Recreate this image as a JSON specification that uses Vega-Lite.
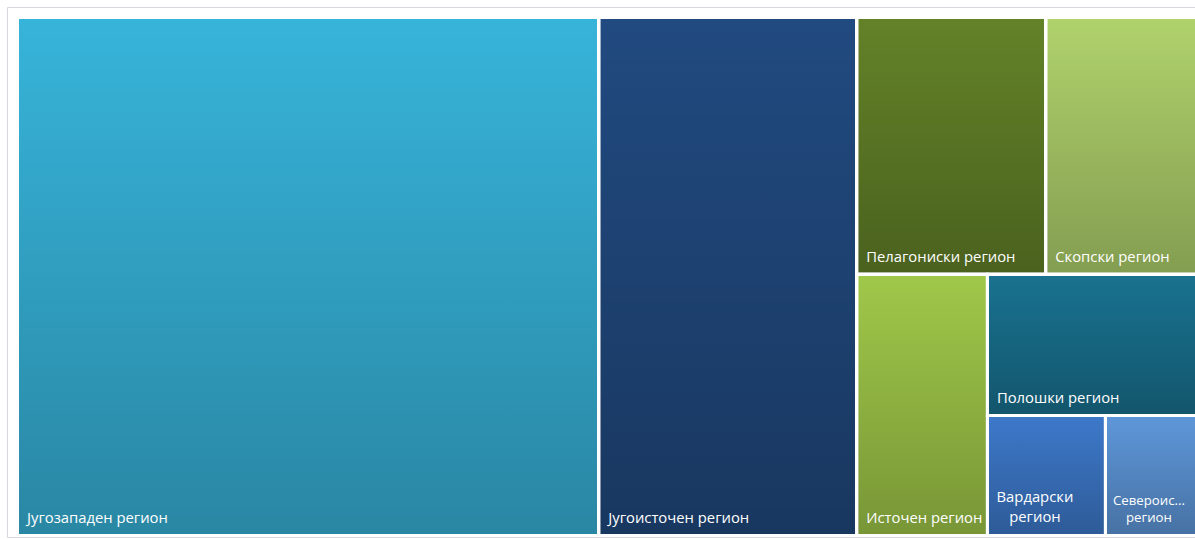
{
  "$schema": "https://vega.github.io/schema/vega-lite/v6.json",
  "width": 1188,
  "height": 530,
  "autosize": {"type": "none"},
  "padding": {"left": 7, "top": 7, "right": 0, "bottom": 2},
  "background": "white",
  "config": {"view": {"stroke": "#d9d7de", "strokeWidth": 1}},
  "data": {
    "values": [
      {"region": "Југозападен регион", "label": "Југозападен регион", "value": 493.0, "g1": "1", "g2": "1", "g3": "1", "g4": "1", "g5": "1"},
      {"region": "Југоисточен регион", "label": "Југоисточен регион", "value": 218.8, "g1": "2", "g2": "1", "g3": "1", "g4": "1", "g5": "1"},
      {"region": "Пелагониски регион", "label": "Пелагониски регион", "value": 79.5, "g1": "3", "g2": "1", "g3": "1", "g4": "1", "g5": "1"},
      {"region": "Скопски регион", "label": "Скопски регион", "value": 63.4, "g1": "3", "g2": "1", "g3": "2", "g4": "1", "g5": "1"},
      {"region": "Источен регион", "label": "Источен регион", "value": 55.9, "g1": "3", "g2": "2", "g3": "1", "g4": "1", "g5": "1"},
      {"region": "Полошки регион", "label": "Полошки регион", "value": 48.3, "g1": "3", "g2": "2", "g3": "2", "g4": "1", "g5": "1"},
      {"region": "Вардарски регион", "label": ["Вардарски", "регион"], "value": 23.2, "g1": "3", "g2": "2", "g3": "2", "g4": "2", "g5": "1"},
      {"region": "Североисточен регион", "label": ["Североис...", "регион"], "value": 17.9, "g1": "3", "g2": "2", "g3": "2", "g4": "2", "g5": "2"}
    ]
  },
  "transform": [
    {"joinaggregate": [{"op": "sum", "field": "value", "as": "T"}]},
    {"joinaggregate": [{"op": "sum", "field": "value", "as": "s1"}], "groupby": ["g1"]},
    {"window": [{"op": "sum", "field": "value", "as": "c1"}], "sort": [{"field": "g1"}], "frame": [null, 0], "ignorePeers": false},
    {"joinaggregate": [{"op": "sum", "field": "value", "as": "s2"}], "groupby": ["g1", "g2"]},
    {"window": [{"op": "sum", "field": "value", "as": "c2"}], "groupby": ["g1"], "sort": [{"field": "g2"}], "frame": [null, 0], "ignorePeers": false},
    {"joinaggregate": [{"op": "sum", "field": "value", "as": "s3"}], "groupby": ["g1", "g2", "g3"]},
    {"window": [{"op": "sum", "field": "value", "as": "c3"}], "groupby": ["g1", "g2"], "sort": [{"field": "g3"}], "frame": [null, 0], "ignorePeers": false},
    {"joinaggregate": [{"op": "sum", "field": "value", "as": "s4"}], "groupby": ["g1", "g2", "g3", "g4"]},
    {"window": [{"op": "sum", "field": "value", "as": "c4"}], "groupby": ["g1", "g2", "g3"], "sort": [{"field": "g4"}], "frame": [null, 0], "ignorePeers": false},
    {"joinaggregate": [{"op": "sum", "field": "value", "as": "s5"}], "groupby": ["g1", "g2", "g3", "g4", "g5"]},
    {"window": [{"op": "sum", "field": "value", "as": "c5"}], "groupby": ["g1", "g2", "g3", "g4"], "sort": [{"field": "g5"}], "frame": [null, 0], "ignorePeers": false},
    {"calculate": "(datum.c1 - datum.s1) / datum.T", "as": "xa0"},
    {"calculate": "datum.c1 / datum.T", "as": "xa1"},
    {"calculate": "(datum.c2 - datum.s2) / datum.s1", "as": "yb0"},
    {"calculate": "datum.c2 / datum.s1", "as": "yb1"},
    {"calculate": "datum.xa0 + (datum.c3 - datum.s3) / datum.s2 * (datum.xa1 - datum.xa0)", "as": "xc0"},
    {"calculate": "datum.xa0 + datum.c3 / datum.s2 * (datum.xa1 - datum.xa0)", "as": "xc1"},
    {"calculate": "datum.yb0 + (datum.c4 - datum.s4) / datum.s3 * (datum.yb1 - datum.yb0)", "as": "yd0"},
    {"calculate": "datum.yb0 + datum.c4 / datum.s3 * (datum.yb1 - datum.yb0)", "as": "yd1"},
    {"calculate": "datum.xc0 + (datum.c5 - datum.s5) / datum.s4 * (datum.xc1 - datum.xc0)", "as": "xe0"},
    {"calculate": "datum.xc0 + datum.c5 / datum.s4 * (datum.xc1 - datum.xc0)", "as": "xe1"}
  ],
  "layer": [
    {
      "mark": {"type": "rect", "stroke": "white", "strokeWidth": 3},
      "encoding": {
        "x": {"field": "xe0", "type": "quantitative", "axis": null, "scale": {"domain": [-0.008906, 0.998728], "nice": false, "zero": false}},
        "x2": {"field": "xe1"},
        "y": {"field": "yd0", "type": "quantitative", "axis": null, "scale": {"domain": [-0.02027, 1.002896], "nice": false, "zero": false, "reverse": true}},
        "y2": {"field": "yd1"},
        "fill": {
          "field": "region", "type": "nominal", "legend": null,
          "scale": {
            "domain": ["Југозападен регион", "Југоисточен регион", "Пелагониски регион", "Скопски регион", "Источен регион", "Полошки регион", "Вардарски регион", "Североисточен регион"],
            "range": ["#37b4da", "#214a80", "#638228", "#b0d26c", "#a0c849", "#197290", "#3d79ca", "#5e97da"]
          }
        }
      }
    },
    {
      "mark": {
        "type": "rect", "stroke": "white", "strokeWidth": 3,
        "color": {"gradient": "linear", "x1": 0, "y1": 0, "x2": 0, "y2": 1,
          "stops": [{"offset": 0, "color": "rgba(0,0,0,0)"}, {"offset": 1, "color": "rgba(0,0,0,0.25)"}]}
      },
      "encoding": {
        "x": {"field": "xe0", "type": "quantitative"},
        "x2": {"field": "xe1"},
        "y": {"field": "yd0", "type": "quantitative"},
        "y2": {"field": "yd1"}
      }
    },
    {
      "transform": [{"filter": {"not": {"field": "region", "oneOf": ["Вардарски регион", "Североисточен регион"]}}}],
      "mark": {"type": "text", "align": "left", "baseline": "alphabetic", "dx": 9.5, "dy": -12, "font": "Open Sans", "fontSize": 14.8, "color": "white"},
      "encoding": {
        "x": {"field": "xe0", "type": "quantitative"},
        "y": {"field": "yd1", "type": "quantitative"},
        "text": {"field": "label", "type": "nominal"}
      }
    },
    {
      "transform": [{"filter": {"field": "region", "equal": "Вардарски регион"}}],
      "mark": {"type": "text", "align": "center", "baseline": "alphabetic", "dx": 47.5, "dy": -33, "lineHeight": 20, "font": "Open Sans", "fontSize": 14.8, "color": "white"},
      "encoding": {
        "x": {"field": "xe0", "type": "quantitative"},
        "y": {"field": "yd1", "type": "quantitative"},
        "text": {"field": "label", "type": "nominal"}
      }
    },
    {
      "transform": [{"filter": {"field": "region", "equal": "Североисточен регион"}}],
      "mark": {"type": "text", "align": "center", "baseline": "alphabetic", "dx": 43.5, "dy": -30.5, "lineHeight": 17.5, "font": "Open Sans", "fontSize": 13.2, "color": "white"},
      "encoding": {
        "x": {"field": "xe0", "type": "quantitative"},
        "y": {"field": "yd1", "type": "quantitative"},
        "text": {"field": "label", "type": "nominal"}
      }
    }
  ]
}
